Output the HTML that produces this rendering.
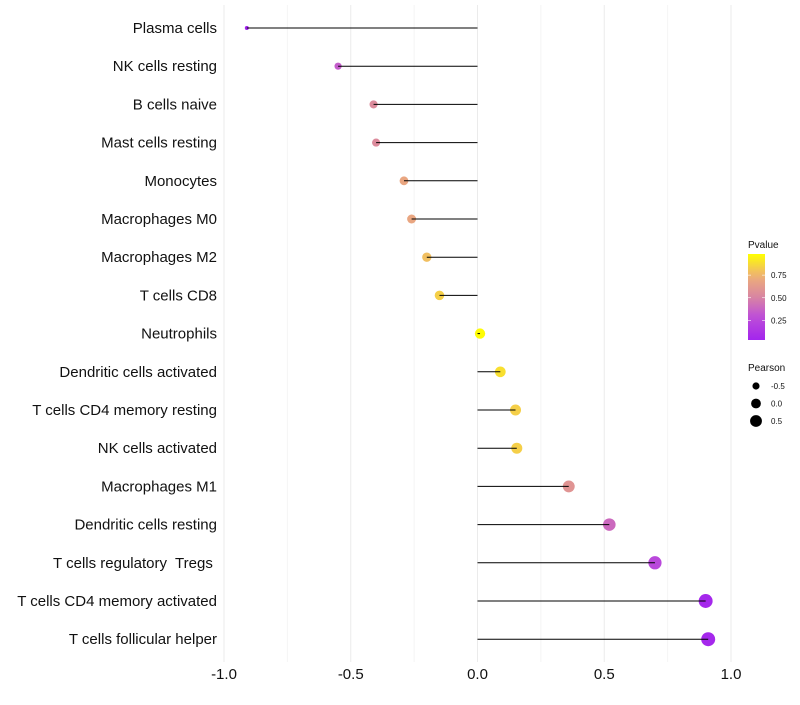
<!DOCTYPE html>
<html><head><meta charset="utf-8"><style>
body{margin:0;background:#fff;font-family:"Liberation Sans",sans-serif}
text{white-space:pre}
</style></head><body>
<svg id="c" width="800" height="700" xmlns="http://www.w3.org/2000/svg"></svg>
<script>
const categories=["Plasma cells","NK cells resting","B cells naive","Mast cells resting","Monocytes","Macrophages M0","Macrophages M2","T cells CD8","Neutrophils","Dendritic cells activated","T cells CD4 memory resting","NK cells activated","Macrophages M1","Dendritic cells resting","T cells regulatory  Tregs ","T cells CD4 memory activated","T cells follicular helper"];
const pearson=[-0.91,-0.55,-0.41,-0.40,-0.29,-0.26,-0.20,-0.15,0.01,0.09,0.15,0.155,0.36,0.52,0.70,0.90,0.91];
const pvalues=[0.02,0.35,0.55,0.55,0.70,0.70,0.80,0.85,0.99,0.90,0.85,0.85,0.60,0.40,0.25,0.05,0.05];
const xTicks=[-1.0,-0.5,0.0,0.5,1.0];
const pTicks=[0.25,0.5,0.75];
const sizeTicks=[-0.5,0.0,0.5];
const NS="http://www.w3.org/2000/svg",svg=document.getElementById('c');
const x=v=>477.5+v*253.5, y=i=>28+i*38.2;
const rad=v=>Math.sqrt(Math.max(3,26.5+24.7*v));
function mk(t,a,p){const e=document.createElementNS(NS,t);for(const k in a)e.setAttribute(k,a[k]);(p||svg).appendChild(e);return e;}
const stops=[[0,[160,32,240]],[0.3,[190,80,215]],[0.5,[215,130,165]],[0.75,[238,175,120]],[1,[255,255,0]]];
function col(p){for(let i=1;i<stops.length;i++){if(p<=stops[i][0]){const a=stops[i-1],b=stops[i],t=(p-a[0])/(b[0]-a[0]);return 'rgb('+a[1].map((c,j)=>Math.round(c+(b[1][j]-c)*t)).join(',')+')';}}return 'rgb(255,255,0)';}
for(let v=-1;v<=1.001;v+=0.25){const g=mk('line',{x1:x(v),x2:x(v),y1:5,y2:662,stroke:Math.abs(v*2-Math.round(v*2))<1e-6?'#ebebeb':'#f4f4f4','stroke-width':1});
}
xTicks.forEach(v=>{const t=mk('text',{x:x(v),y:679,'text-anchor':'middle','font-size':15,fill:'#111'});t.textContent=v.toFixed(1);
});
categories.forEach((c,i)=>{
const t=mk('text',{x:217,y:y(i)+5,'text-anchor':'end','font-size':15,fill:'#111'});t.textContent=c;

const d=mk('circle',{cx:x(pearson[i]),cy:y(i),r:rad(pearson[i]),fill:col(pvalues[i])});

const l=mk('line',{x1:x(0),x2:x(pearson[i]),y1:y(i),y2:y(i),stroke:'#000','stroke-width':1});

});
const lt=mk('text',{x:748,y:248,'font-size':10,fill:'#111'});lt.textContent='Pvalue';

const defs=mk('defs',{});const gr=mk('linearGradient',{id:'g',x1:0,y1:1,x2:0,y2:0},defs);
for(let k=0;k<=10;k++){const p=0.03+k*0.097;mk('stop',{offset:k/10,'stop-color':col(p)},gr);}
const bar=mk('rect',{x:748,y:254,width:17,height:86,fill:'url(#g)'});

const py=p=>343-p*90.5;
pTicks.forEach(p=>{mk('line',{x1:748,x2:751,y1:py(p),y2:py(p),stroke:'#fff','stroke-width':0.6});mk('line',{x1:762,x2:765,y1:py(p),y2:py(p),stroke:'#fff','stroke-width':0.6});
const t=mk('text',{x:771,y:py(p)+3,'font-size':8,fill:'#111'});t.textContent=p.toFixed(2);
});
const st=mk('text',{x:748,y:371,'font-size':10,fill:'#111'});st.textContent='Pearson';

sizeTicks.forEach((v,k)=>{const cy=386+k*17.5;
const c=mk('circle',{cx:756,cy:cy,r:rad(v)*0.95,fill:'#000'});
const t=mk('text',{x:771,y:cy+3,'font-size':8,fill:'#111'});t.textContent=v.toFixed(1);
});
</script>
</body></html>
